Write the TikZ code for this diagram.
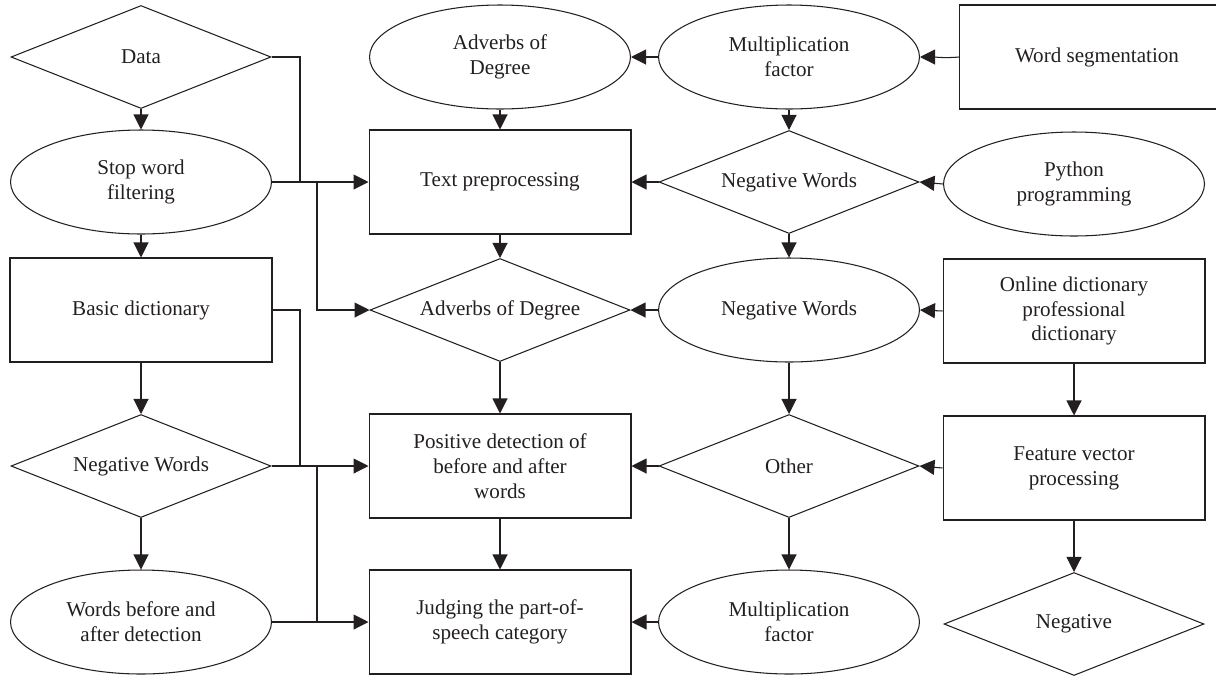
\documentclass[tikz,border=0pt]{standalone}
\usepackage{fontspec}
\setmainfont{Liberation Serif}
\usetikzlibrary{shapes.geometric,arrows.meta}

\definecolor{ink}{RGB}{35,31,32}

\begin{document}
\begin{tikzpicture}[x=0.02cm,y=-0.02cm,
  txt/.style={font=\fontsize{12}{14.2}\selectfont, align=center, text=ink, draw=ink, line width=0.6pt},
  box/.style={txt, rectangle, minimum width=5.24cm, minimum height=2.08cm},
  oval/.style={txt, ellipse, minimum width=5.22cm, minimum height=2.08cm, inner sep=1pt},
  decision/.style={txt, diamond, aspect=2.5, minimum width=5.2cm, minimum height=2.06cm, inner sep=1pt},
  link/.style={draw=ink, line width=0.6pt, -{Triangle[length=0.3cm,width=0.3cm]}},
  wire/.style={draw=ink, line width=0.6pt}]

\useasboundingbox (0,0) rectangle (1216,680);

%%%%%%%%%%%%%%%%%%%%%%%%%%%%%%%%%%%%%%%%%%%%%%%%%%%%%%%%%%%%%%%%%%%%%%%%%%%%%%%%%%%
\node [decision] (data)   at (141,57)  {Data};
\node [oval]     (stop)   at (141,182) {Stop word\\filtering};
\node [box]      (basic)  at (141,310) {Basic dictionary};
\node [decision] (negl)   at (141,466) {Negative Words};
\node [oval]     (before) at (141,622) {Words before and\\after detection};

\node [oval]     (adv)    at (500,57)  {Adverbs of\\Degree};
\node [box]      (text)   at (500,182) {Text preprocessing};
\node [decision] (advd)   at (500,310) {Adverbs of Degree};
\node [box]      (pos)    at (500,466) {Positive detection of\\before and after\\words};
\node [box]      (judge)  at (500,622) {Judging the part-of-\\speech category};

\node [oval]     (mult)   at (789,57)  {Multiplication\\factor};
\node [decision] (negd)   at (789,182) {Negative Words};
\node [oval]     (nege)   at (789,310) {Negative Words};
\node [decision] (other)  at (789,466) {Other};
\node [oval]     (multb)  at (789,622) {Multiplication\\factor};

\node [box, minimum width=5.5cm] (seg) at (1097,57) {Word segmentation};
\node [oval]     (python) at (1074,184) {Python\\programming};
\node [box]      (online) at (1074,311) {Online dictionary\\professional\\dictionary};
\node [box]      (feat)   at (1074,468) {Feature vector\\processing};
\node [decision] (neg)    at (1074,624) {Negative};

\coordinate (j1) at (300,182);
\coordinate (j2) at (317,182);
\coordinate (j3) at (300,466);
\coordinate (j4) at (317,466);
\coordinate (j5) at (317,622);

%%%%%%%%%%%%%%%%%%%%%%%%%%%%%%%%%%%%%%%%%%%%%%%%%%%%%%%%%%%%%%%%%%%%%%%%%%%%%%%%%%%
\draw [link] (data) -- (stop);
\draw [link] (stop) -- (basic);
\draw [link] (basic) -- (negl);
\draw [link] (negl) -- (before);

\draw [wire] (data.east) -| (j1);
\draw [link] (stop.east) -- (text.west);
\draw [link] (j2) |- (advd.west);
\draw [wire] (basic.east) -| (j3);
\draw [link] (negl.east) -- (pos.west);
\draw [wire] (j4) -- (j5);
\draw [link] (before.east) -- (judge.west);

\draw [link] (adv) -- (text);
\draw [link] (text) -- (advd);
\draw [link] (advd) -- (pos);
\draw [link] (pos) -- (judge);

\draw [link] (mult) -- (adv);
\draw [link] (negd) -- (text);
\draw [link] (nege) -- (advd);
\draw [link] (other) -- (pos);
\draw [link] (multb) -- (judge);

\draw [link] (mult) -- (negd);
\draw [link] (negd) -- (nege);
\draw [link] (nege) -- (other);
\draw [link] (other) -- (multb);

\draw [link] (seg.west) to [out=185,in=0] (mult.east);
\draw [link] (python.west) -- (negd.east);
\draw [link] (online.west) -- (nege.east);
\draw [link] (feat.west) -- (other.east);
\draw [link] (online) -- (feat);
\draw [link] (feat) -- (neg);

\end{tikzpicture}
\end{document}
